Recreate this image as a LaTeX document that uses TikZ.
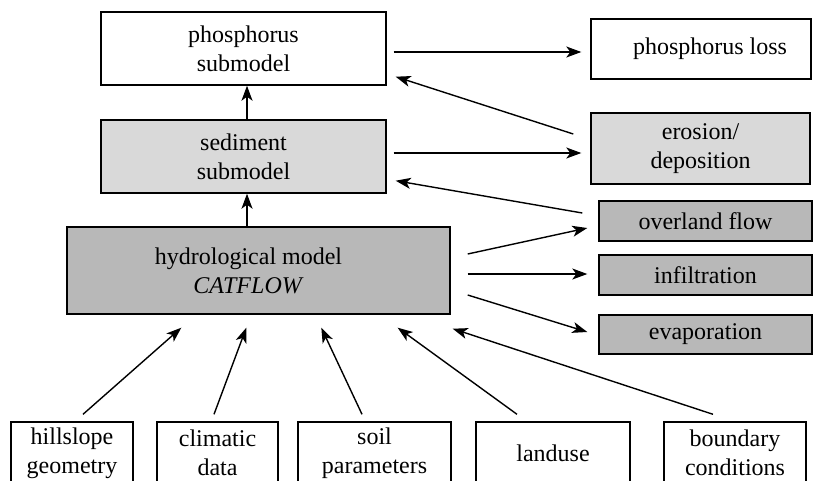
\documentclass[tikz,border=0pt]{standalone}
\usepackage{fontspec}
\setmainfont{Liberation Serif}
\usepackage{tikz}
\usetikzlibrary{
    arrows.meta,
    calc,
    positioning
}
\definecolor{lightfill}{gray}{0.85}
\definecolor{darkfill}{gray}{0.72}

\begin{document}
\begin{tikzpicture}[x=1pt, y=-1pt,
        box/.style={draw, line width=1.4pt, align=center, inner sep=0pt,
            font=\fontsize{24}{29}\selectfont},
        arr/.style={line width=1.4pt, -{Stealth[length=15pt, width=11pt, inset=4pt]}}]
    \useasboundingbox (0, 0) rectangle (813, 480);
    % submodels
    \node[box, minimum width=285, minimum height=73] (phos) at (243.5, 48.5) {phosphorus\\submodel};
    \node[box, fill=lightfill, minimum width=285, minimum height=73] (sed) at (243.5, 156.5) {sediment\\submodel};
    \node[box, fill=darkfill, minimum width=383, minimum height=87] (hydro) at (258.5, 270.5)
        {\hspace*{-20pt}hydrological model\\\hspace*{-20pt}\textit{CATFLOW}};
    % outputs
    \node[box, minimum width=220, minimum height=60] (ploss) at (701, 49) {\hspace*{18pt}phosphorus loss};
    \node[box, fill=lightfill, minimum width=219, minimum height=71] (eros) at (700.5, 148.5) {erosion/\\deposition};
    \node[box, fill=darkfill, minimum width=213, minimum height=40] (overland) at (705.5, 221) {overland flow};
    \node[box, fill=darkfill, minimum width=213, minimum height=40] (infil) at (705.5, 275) {infiltration};
    \node[box, fill=darkfill, minimum width=213, minimum height=39] (evap) at (705.5, 334.5) {evaporation};
    % inputs
    \node[box, minimum width=122, minimum height=62] (hill) at (72, 453) {hillslope\\geometry};
    \node[box, minimum width=121, minimum height=62] (clim) at (217.5, 453) {climatic\\data};
    \node[box, minimum width=153, minimum height=62] (soil) at (374.5, 453) {soil\\parameters};
    \node[box, minimum width=154, minimum height=62] (land) at (553, 453) {landuse};
    \node[box, minimum width=142, minimum height=62] (bound) at (735, 453) {boundary\\conditions};

    % vertical chain
    \draw[arr] ([shift={(3.5, 0)}]sed.north) -- ([shift={(3.5, 0)}]phos.south);
    \draw[arr] ([shift={(-11.5, 0)}]hydro.north) -- ([shift={(3.5, 0)}]sed.south);
    % exchange with outputs
    \draw[arr] ([shift={(7, 3.5)}]phos.east) -- ([shift={(-9, 3)}]ploss.west);
    \draw[arr] ([shift={(-17, -14.5)}]eros.west) -- ([shift={(9, -9)}]phos.south east);
    \draw[arr] ([shift={(7, -3.5)}]sed.east) -- ([shift={(-9, 4.5)}]eros.west);
    \draw[arr] ([shift={(-16, -8)}]overland.west) -- ([shift={(9, -13)}]sed.south east);
    \draw[arr] ([shift={(17, -16.5)}]hydro.east) -- ([shift={(-11, 7)}]overland.west);
    \draw[arr] ([shift={(17, 3.5)}]hydro.east) -- ([shift={(-11, -1)}]infil.west);
    \draw[arr] ([shift={(17, 24.5)}]hydro.east) -- ([shift={(-11, -2.5)}]evap.west);
    % input data
    \draw[arr] ([shift={(11, -7)}]hill.north) -- ([shift={(115, 13)}]hydro.south west);
    \draw[arr] ([shift={(-3.5, -7)}]clim.north) -- ([shift={(180, 13)}]hydro.south west);
    \draw[arr] ([shift={(-12.5, -7)}]soil.north) -- ([shift={(255, 13)}]hydro.south west);
    \draw[arr] ([shift={(-36, -7)}]land.north) -- ([shift={(-53, 13)}]hydro.south east);
    \draw[arr] ([shift={(-22, -7)}]bound.north) -- ([shift={(2, 14)}]hydro.south east);
\end{tikzpicture}
\end{document}
